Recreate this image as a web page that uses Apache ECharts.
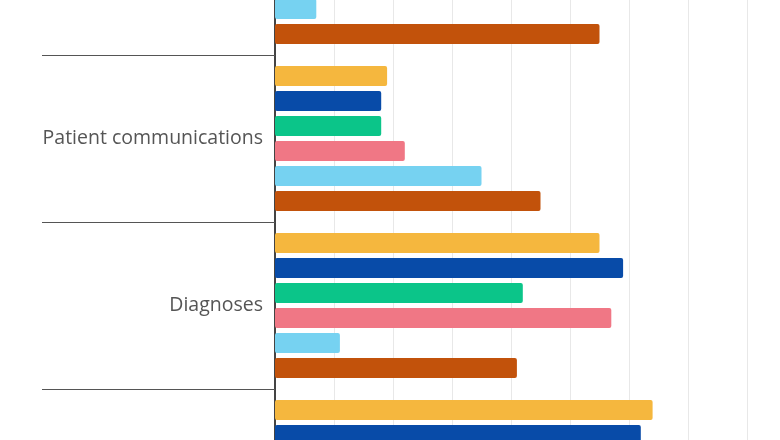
<!DOCTYPE html>
<html>
<head>
<meta charset="utf-8">
<script src="https://cdn.jsdelivr.net/npm/echarts@6/dist/echarts.min.js"></script>
<style>
  html, body { margin: 0; padding: 0; background: #fff; }
  #chart { width: 780px; height: 440px; }
</style>
</head>
<body>
<div id="chart"></div>
<script>
// categories top to bottom (first and last are mostly out of frame)
const categories = ['Administrative tasks', 'Patient communications', 'Diagnoses', 'Treatment planning']

// one list per group, values in percent
const seriesNames = ['Group A', 'Group B', 'Group C', 'Group D', 'Group E', 'Group F']
const groupA = [30, 19, 55, 64]
const groupB = [28, 18, 59, 62]
const groupC = [22, 18, 42, 48]
const groupD = [25, 22, 57, 52]
const groupE = [7, 35, 11, 20]
const groupF = [55, 45, 41, 50]
const values = [groupA, groupB, groupC, groupD, groupE, groupF]

const colors = ['#F5B73E', '#084BA8', '#0BC589', '#F07785', '#76D2F1', '#C2520B']

const chart = echarts.init(document.getElementById('chart'))
chart.setOption({
    animation: false,
    grid: {
        left: 275,
        top: -112,
        width: 590,
        height: 668,
        outerBoundsMode: 'none',
        containLabel: false
    },
    xAxis: {
        type: 'value',
        min: 0,
        max: 100,
        interval: 10,
        axisLabel: { show: false },
        axisLine: { show: false },
        axisTick: { show: false },
        splitLine: { lineStyle: { color: '#e8e8e8', width: 1 } }
    },
    yAxis: {
        type: 'category',
        inverse: true,
        data: categories,
        axisLine: { lineStyle: { color: '#444', width: 2 } },
        axisTick: { show: true, length: 233, lineStyle: { color: '#555', width: 1 } },
        axisLabel: {
            margin: 12,
            color: '#555',
            fontSize: 19.5,
            fontFamily: 'Open Sans'
        }
    },
    series: values.map((v, i) => ({
        name: seriesNames[i],
        type: 'bar',
        data: v,
        barWidth: 20,
        barGap: '25%',
        itemStyle: { color: colors[i], borderRadius: 2 }
    }))
})
</script>
</body>
</html>
